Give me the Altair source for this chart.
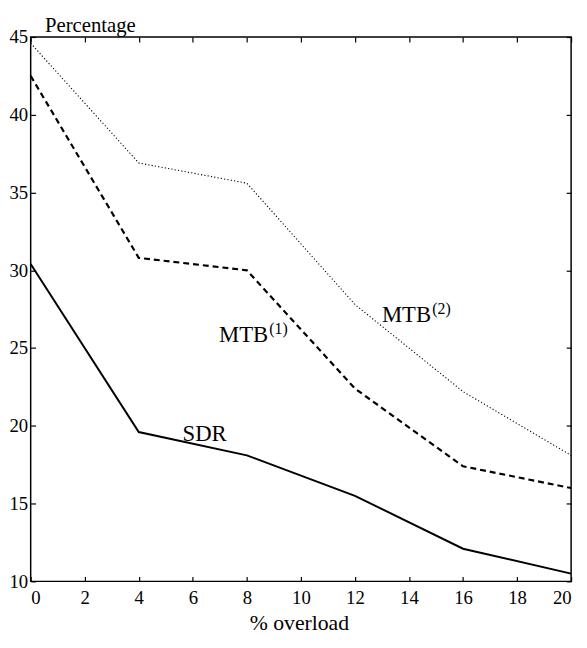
import altair as alt
import pandas as pd

# ---- data ----
x_vals = [0, 4, 8, 12, 16, 20]
sdr = [30.4, 19.6, 18.1, 15.5, 12.1, 10.5]
mtb1 = [42.5, 30.8, 30.0, 22.4, 17.4, 16.0]
mtb2 = [44.6, 36.9, 35.6, 27.8, 22.2, 18.1]
series_names = ["SDR", "MTB1", "MTB2"]

label_main = ["SDR", "MTB", "MTB"]
label_sup = ["", "(1)", "(2)"]
label_x = [5.62, 6.97, 13.0]
label_y = [19.0, 25.4, 26.7]

x_ticks = [0, 2, 4, 6, 8, 10, 12, 14, 16, 18, 20]
y_ticks = [10, 15, 20, 25, 30, 35, 40, 45]

rows = []
for name, vals in zip(series_names, [sdr, mtb1, mtb2]):
    for xv, yv in zip(x_vals, vals):
        rows.append({"overload": xv, "pct": yv, "series": name})
df = pd.DataFrame(rows)

labels = pd.DataFrame({"main": label_main, "sup": label_sup, "lx": label_x, "ly": label_y})

FONT = "Liberation Serif"
xscale = alt.Scale(domain=[0, 20], nice=False, zero=False)
yscale = alt.Scale(domain=[10, 45], nice=False, zero=False)

x_axis = alt.Axis(values=x_ticks, orient="bottom", offset=-5, tickSize=5, domain=False, grid=False,
                  labelPadding=7, labelFont=FONT, labelFontSize=19, labelColor="black",
                  tickColor="black", tickWidth=1.2, format="d",
                  title="% overload", titleFont=FONT, titleFontSize=22, titleFontWeight="normal",
                  titleColor="black", titleAlign="center", titleBaseline="alphabetic",
                  titleX=272, titleY=54)
y_axis = alt.Axis(values=y_ticks, orient="left", offset=-5, tickSize=5, domain=False, grid=False,
                  labelPadding=3, labelFont=FONT, labelFontSize=19, labelColor="black",
                  tickColor="black", tickWidth=1.2, format="d",
                  title="Percentage", titleFont=FONT, titleFontSize=21, titleFontWeight="normal",
                  titleColor="black", titleAngle=0, titleAlign="left", titleBaseline="alphabetic",
                  titleX=9, titleY=-6)

x_top = alt.Axis(values=x_ticks, orient="top", offset=-5, tickSize=5, domain=False, grid=False,
                 labels=False, tickColor="black", tickWidth=1.2, title="")
y_right = alt.Axis(values=y_ticks, orient="right", offset=-5, tickSize=5, domain=False, grid=False,
                   labels=False, tickColor="black", tickWidth=1.2, title="")

X = alt.X("overload:Q", scale=xscale, axis=x_axis)
Y = alt.Y("pct:Q", scale=yscale, axis=y_axis)
LX = alt.X("lx:Q", scale=xscale, axis=x_axis)
LY = alt.Y("ly:Q", scale=yscale, axis=y_axis)

base = alt.Chart(df)

sdr_line = base.transform_filter(alt.datum.series == "SDR").mark_line(
    color="black", strokeWidth=2).encode(x=X, y=Y)
mtb1_line = base.transform_filter(alt.datum.series == "MTB1").mark_line(
    color="black", strokeWidth=2.2, strokeDash=[6, 4]).encode(x=X, y=Y)
mtb2_line = base.transform_filter(alt.datum.series == "MTB2").mark_line(
    color="black", strokeWidth=1.1, strokeDash=[1.2, 2.2]).encode(x=X, y=Y)

lab = alt.Chart(labels)
main_text = lab.mark_text(font=FONT, fontSize=23, align="left", baseline="alphabetic",
                          color="black").encode(x=LX, y=LY, text="main:N")
sup_text = lab.mark_text(font=FONT, fontSize=16, align="left", baseline="alphabetic",
                         color="black", dx=51, dy=-8).encode(x=LX, y=LY, text="sup:N")

main = alt.layer(sdr_line, mtb1_line, mtb2_line, main_text, sup_text)

frame = base.mark_point(opacity=0).encode(
    x=alt.X("overload:Q", scale=xscale, axis=x_top),
    y=alt.Y("pct:Q", scale=yscale, axis=y_right),
)

chart = alt.layer(main, frame).resolve_axis(x="independent", y="independent").properties(
    width=548, height=552,
    autosize=alt.AutoSizeParams(type="none"),
    padding={"left": 23, "top": 25, "right": 8, "bottom": 52},
    background="white",
).configure_view(stroke="black", strokeWidth=1.5)

chart.save("out.html", embed_options={"renderer": "svg", "actions": False})
